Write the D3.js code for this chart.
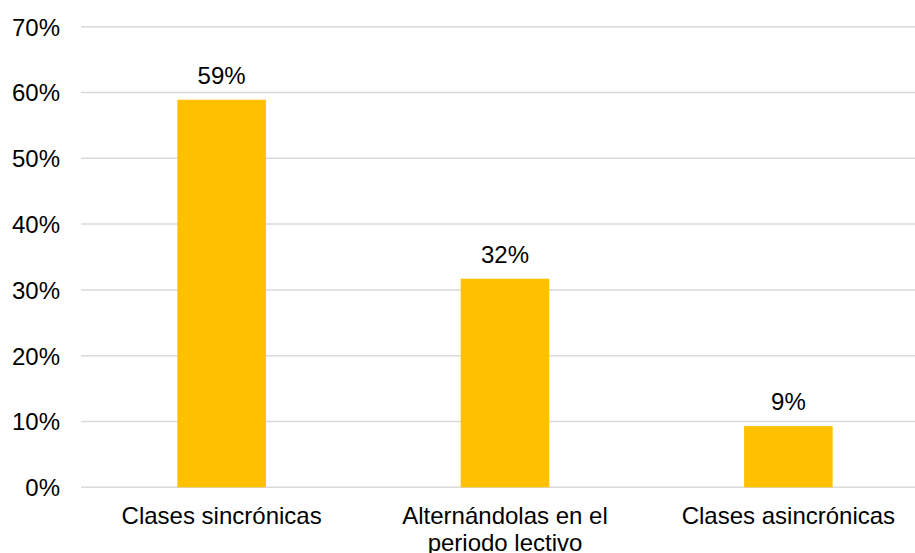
<!DOCTYPE html>
<html lang="es">
<head>
    <meta charset="UTF-8">
    <script src="https://d3js.org/d3.v7.min.js"></script>
    <title>Clases</title>
    <style>
        body { margin: 0; background: #fff; }
        text { font-family: "Liberation Sans", Arial, sans-serif; fill: #000; }
    </style>
</head>
<body>
    <div id="chart"></div>
    <script>
        // data
        var categories = ['Clases sincrónicas', 'Alternándolas en el periodo lectivo', 'Clases asincrónicas'];
        var values = [0.589, 0.317, 0.093];
        var yTicks = [0, 0.1, 0.2, 0.3, 0.4, 0.5, 0.6, 0.7];

        var width = 915, height = 553;
        var fontSize = 24;

        var svg = d3.select('#chart')
            .append('svg')
                .attr('width', width)
                .attr('height', height);

        var x = d3.scaleBand()
            .domain(categories)
            .range([81, 929])
            .paddingInner(0.6875)
            .paddingOuter(0.34);

        var y = d3.scaleLinear()
            .domain([0, 0.7])
            .range([487.3, 26.7]);

        var pct = d3.format('.0%');

        // gridlines
        svg.append('g')
            .selectAll('line')
            .data(yTicks)
            .enter()
            .append('line')
                .attr('x1', 81)
                .attr('x2', width)
                .attr('y1', function(d) { return y(d); })
                .attr('y2', function(d) { return y(d); })
                .attr('stroke', '#d9d9d9')
                .attr('stroke-width', 1.5);

        // y axis labels
        svg.append('g')
            .selectAll('text')
            .data(yTicks)
            .enter()
            .append('text')
                .attr('x', 60)
                .attr('y', function(d) { return y(d); })
                .attr('dy', '0.37em')
                .attr('text-anchor', 'end')
                .style('font-size', fontSize + 'px')
                .text(pct);

        // bars
        svg.append('g')
            .selectAll('rect')
            .data(values)
            .enter()
            .append('rect')
                .attr('x', function(d, i) { return x(categories[i]); })
                .attr('width', x.bandwidth())
                .attr('y', function(d) { return y(d); })
                .attr('height', function(d) { return y(0) - y(d); })
                .attr('fill', '#ffc000');

        // value labels
        svg.append('g')
            .selectAll('text')
            .data(values)
            .enter()
            .append('text')
                .attr('x', function(d, i) { return x(categories[i]) + x.bandwidth() / 2; })
                .attr('y', function(d) { return y(d) - 16; })
                .attr('text-anchor', 'middle')
                .style('font-size', fontSize + 'px')
                .text(pct);

        // category labels, wrapped like the original
        var lines = [['Clases sincrónicas'], ['Alternándolas en el', 'periodo lectivo'], ['Clases asincrónicas']];
        var cat = svg.append('g')
            .selectAll('text')
            .data(categories)
            .enter()
            .append('text')
                .attr('text-anchor', 'middle')
                .style('font-size', fontSize + 'px')
                .attr('transform', function(d) {
                    return 'translate(' + (x(d) + x.bandwidth() / 2) + ',524)';
                });

        cat.selectAll('tspan')
            .data(function(d, i) { return lines[i]; })
            .enter()
            .append('tspan')
                .attr('x', 0)
                .attr('dy', function(d, i) { return i === 0 ? 0 : 27; })
                .text(function(d) { return d; });
    </script>
</body>
</html>
